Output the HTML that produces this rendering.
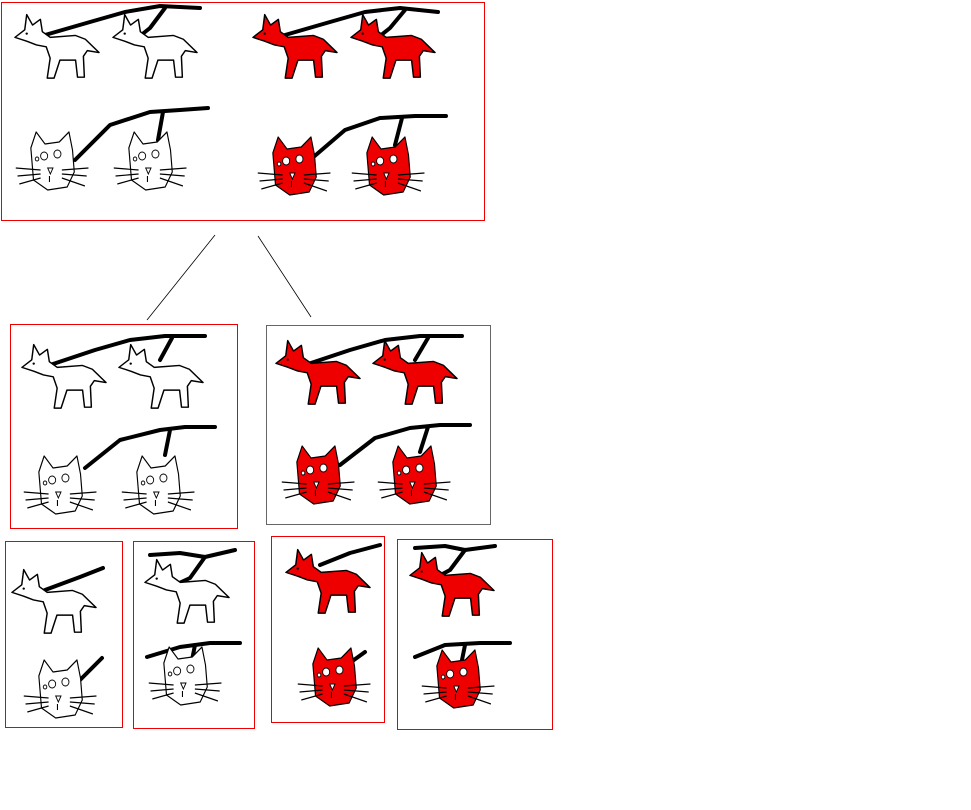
<!DOCTYPE html>
<html><head><meta charset="utf-8"><style>
html,body{margin:0;padding:0;background:#fff;}
svg{display:block;}
</style></head><body>
<svg width="971" height="810" viewBox="0 0 971 810" xmlns="http://www.w3.org/2000/svg">
<defs>
<symbol id="dog" viewBox="-1 -1 88 76" preserveAspectRatio="none">
<path d="M0,30 L10,22 L12,6 L18,17 L26,11 L28,24 L36,30 L62,28 L72,32 L86,46 L74,44 L70,50 L71,72 L64,72 L62,54 L46,54 L40,73 L33,73 L36,52 L32,40 L22,38 L12,34 Z" fill="currentColor" stroke="#000" stroke-width="1.5" stroke-linejoin="round"/>
<circle cx="12" cy="26" r="1.2" fill="#000"/>
</symbol>
<symbol id="cat" viewBox="-14 -4 88 68" preserveAspectRatio="none">
<path d="M5,16 L11,0 L21,12 L37,10 L48,0 L52,18 L54,40 L46,55 L24,58 L8,48 Z" fill="currentColor" stroke="#000" stroke-width="1.3" stroke-linejoin="round"/>
<circle cx="20" cy="24" r="4" fill="#fff" stroke="#000"/><circle cx="35" cy="22" r="4" fill="#fff" stroke="#000"/>
<circle cx="12" cy="27" r="2" fill="#fff" stroke="#000"/>
<path d="M24,36 L30,36 L27,42 Z" fill="#fff" stroke="#000"/>
<path d="M-12,36 L16,38 M-10,44 L16,42 M-8,52 L16,46 M40,38 L70,36 M40,42 L68,44 M40,46 L66,54 M26,44 L26,50" stroke="#000" stroke-width="1.2" fill="none"/>
</symbol>
</defs>
<style>.br{stroke:#000;stroke-width:4;fill:none;stroke-linejoin:round;stroke-linecap:round}.bx{fill:none;stroke:#e00;stroke-width:1}</style>

<g>
<rect class="bx" x="1.5" y="2.5" width="483" height="218"/>
<polyline class="br" points="45,35 90,22 125,12 160,6 200,8"/><polyline class="br" points="165,8 150,28 135,40"/>
<polyline class="br" points="75,160 110,125 150,112 180,110 208,108"/><polyline class="br" points="163,112 158,140"/>
<polyline class="br" points="285,35 330,22 365,12 400,8 438,12"/><polyline class="br" points="405,10 390,28 375,40"/>
<polyline class="br" points="310,160 345,130 380,118 415,116 446,116"/><polyline class="br" points="402,118 395,145"/>
<use href="#dog" x="14" y="8" width="86" height="72" color="#fff"/>
<use href="#dog" x="112" y="8" width="86" height="72" color="#fff"/>
<use href="#cat" x="14" y="128" width="78" height="68" color="#fff"/>
<use href="#cat" x="112" y="128" width="78" height="68" color="#fff"/>
<use href="#dog" x="252" y="8" width="86" height="72" color="#e00"/>
<use href="#dog" x="350" y="8" width="86" height="72" color="#e00"/>
<use href="#cat" x="256" y="133" width="78" height="68" color="#e00"/>
<use href="#cat" x="350" y="133" width="78" height="68" color="#e00"/>
</g>

<line x1="215" y1="235" x2="147" y2="320" stroke="#000" stroke-width="0.8"/>
<line x1="258" y1="236" x2="311" y2="317" stroke="#000" stroke-width="0.8"/>

<g>
<rect class="bx" x="10.5" y="324.5" width="227" height="204"/>
<polyline class="br" points="50,365 95,350 130,340 165,336 205,336"/><polyline class="br" points="172,338 160,360"/>
<polyline class="br" points="85,468 120,440 160,430 185,427 215,427"/><polyline class="br" points="170,430 165,455"/>
<use href="#dog" x="21" y="338" width="86" height="72" color="#fff"/>
<use href="#dog" x="118" y="338" width="86" height="72" color="#fff"/>
<use href="#cat" x="22" y="452" width="78" height="68" color="#fff"/>
<use href="#cat" x="120" y="452" width="78" height="68" color="#fff"/>
</g>

<g>
<rect x="266.5" y="325.5" width="224" height="199" fill="none" stroke="#666" stroke-width="1"/>
<polyline class="br" points="305,365 350,350 385,340 420,336 462,336"/><polyline class="br" points="428,338 415,360"/>
<polyline class="br" points="340,465 375,438 410,428 440,425 470,425"/><polyline class="br" points="428,427 420,452"/>
<use href="#dog" x="275" y="334" width="86" height="72" color="#e00"/>
<use href="#dog" x="372" y="334" width="86" height="72" color="#e00"/>
<use href="#cat" x="280" y="442" width="78" height="68" color="#e00"/>
<use href="#cat" x="376" y="442" width="78" height="68" color="#e00"/>
</g>

<g>
<rect class="bx" x="5.5" y="541.5" width="117" height="186"/>
<polyline class="br" points="45,590 80,577 103,568"/><polyline class="br" points="80,680 102,658"/>
<use href="#dog" x="11" y="563" width="86" height="72" color="#fff"/>
<use href="#cat" x="22" y="656" width="78" height="68" color="#fff"/>
</g>
<g>
<rect class="bx" x="133.5" y="541.5" width="121" height="187"/>
<polyline class="br" points="150,555 180,553 205,557 235,550"/><polyline class="br" points="205,557 190,578 175,585"/>
<polyline class="br" points="147,657 180,647 210,643 240,643"/><polyline class="br" points="195,645 190,670"/>
<use href="#dog" x="144" y="553" width="86" height="72" color="#fff"/>
<use href="#cat" x="147" y="643" width="78" height="68" color="#fff"/>
</g>
<g>
<rect class="bx" x="271.5" y="536.5" width="113" height="186"/>
<polyline class="br" points="320,565 350,553 380,545"/><polyline class="br" points="340,670 365,652"/>
<use href="#dog" x="285" y="543" width="86" height="72" color="#e00"/>
<use href="#cat" x="296" y="644" width="78" height="68" color="#e00"/>
</g>
<g>
<rect class="bx" x="397.5" y="539.5" width="155" height="190"/>
<polyline class="br" points="415,548 445,546 465,550 495,546"/><polyline class="br" points="465,550 450,570 435,578"/>
<polyline class="br" points="415,657 445,645 480,643 510,643"/><polyline class="br" points="465,645 460,670"/>
<use href="#dog" x="409" y="546" width="86" height="72" color="#e00"/>
<use href="#cat" x="420" y="646" width="78" height="68" color="#e00"/>
</g>
</svg>
</body></html>
